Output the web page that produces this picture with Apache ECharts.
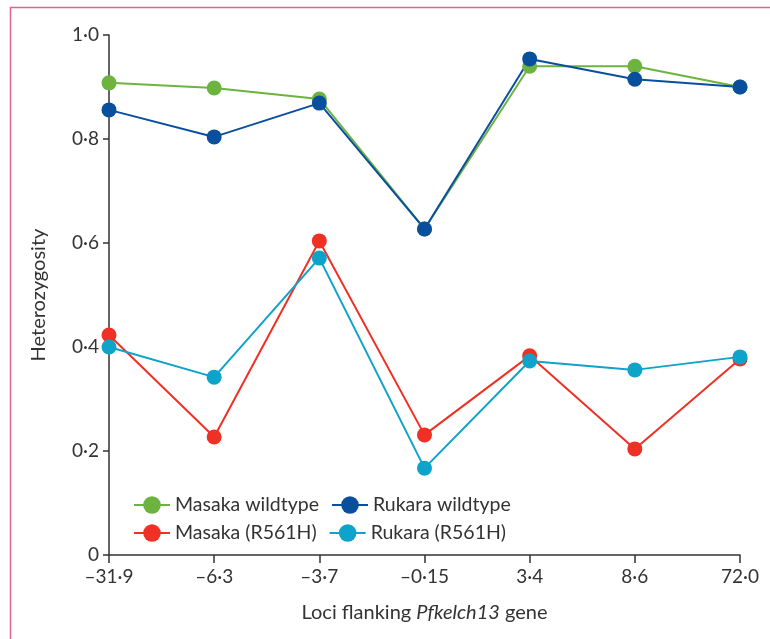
<!DOCTYPE html>
<html>
<head>
<meta charset="utf-8">
<script src="https://cdn.jsdelivr.net/npm/echarts@6/dist/echarts.min.js"></script>
<style>
  html, body { margin: 0; padding: 0; background: #fff; }
  #chart { width: 770px; height: 639px; }
</style>
</head>
<body>
<div id="chart"></div>
<script>
  // loci flanking the gene (kb)
  const loci = ['–31·9', '–6·3', '–3·7', '–0·15', '3·4', '8·6', '72·0'];

  const masakaWild = [0.908, 0.898, 0.877, 0.627, 0.940, 0.940, 0.900];
  const rukaraWild = [0.856, 0.804, 0.869, 0.627, 0.954, 0.915, 0.900];
  const masakaMut = [0.423, 0.227, 0.604, 0.231, 0.383, 0.204, 0.377];
  const rukaraMut = [0.400, 0.342, 0.571, 0.167, 0.373, 0.356, 0.381];

  const font = 'Lato, "Open Sans", sans-serif';
  const ink = '#333';

  let chart = echarts.init(document.getElementById('chart'));

  function line(name, data, color) {
    return {
      name: name,
      type: 'line',
      data: data,
      symbol: 'circle',
      symbolSize: 15,
      lineStyle: { color: color, width: 2 },
      itemStyle: { color: color },
      emphasis: { disabled: true }
    };
  }

  let legendBase = {
    left: 128,
    itemWidth: 36,
    itemHeight: 22,
    itemGap: 12,
    textStyle: { fontFamily: font, fontSize: 19.5, color: ink }
  };

  let option = {
    animation: false,
    graphic: [{
      type: 'rect',
      shape: { x: 10.5, y: 7.5, width: 800, height: 700 },
      style: { fill: 'none', stroke: '#E0668A', lineWidth: 1.5 }
    }],
    grid: { left: 109, right: 30, top: 35, bottom: 84 },
    legend: [
      Object.assign({}, legendBase, { top: 490, data: ['Masaka wildtype', 'Rukara wildtype'] }),
      Object.assign({}, legendBase, { top: 518, data: ['Masaka (R561H)', 'Rukara (R561H)'] })
    ],
    xAxis: {
      type: 'category',
      data: loci,
      boundaryGap: false,
      name: '{n|Loci flanking }{i|Pfkelch13}{n| gene}',
      nameLocation: 'middle',
      nameGap: 48,
      nameTextStyle: {
        rich: {
          n: { fontFamily: font, fontSize: 20, color: ink },
          i: { fontFamily: font, fontSize: 20, color: ink, fontStyle: 'italic' }
        }
      },
      axisLine: { lineStyle: { color: ink, width: 1.5 } },
      axisTick: { alignWithLabel: true, length: 8, lineStyle: { color: ink, width: 1.5 } },
      axisLabel: { fontFamily: font, fontSize: 19, color: ink, margin: 12 },
      splitLine: { show: false }
    },
    yAxis: {
      type: 'value',
      min: 0,
      max: 1,
      interval: 0.2,
      name: 'Heterozygosity',
      nameLocation: 'middle',
      nameGap: 60,
      nameTextStyle: { fontFamily: font, fontSize: 20, color: ink },
      axisLine: { show: true, lineStyle: { color: ink, width: 1.5 } },
      axisTick: { show: true, length: 6, lineStyle: { color: ink, width: 1.5 } },
      axisLabel: {
        fontFamily: font, fontSize: 19, color: ink, margin: 10,
        formatter: function (v) {
          return v === 0 ? '0' : v.toFixed(1).replace('.', '·');
        }
      },
      splitLine: { show: false }
    },
    series: [
      line('Masaka wildtype', masakaWild, '#6DB33F'),
      line('Rukara wildtype', rukaraWild, '#0A4F9E'),
      line('Masaka (R561H)', masakaMut, '#EE3124'),
      line('Rukara (R561H)', rukaraMut, '#0EA3C9')
    ]
  };

  chart.setOption(option);
</script>
</body>
</html>
